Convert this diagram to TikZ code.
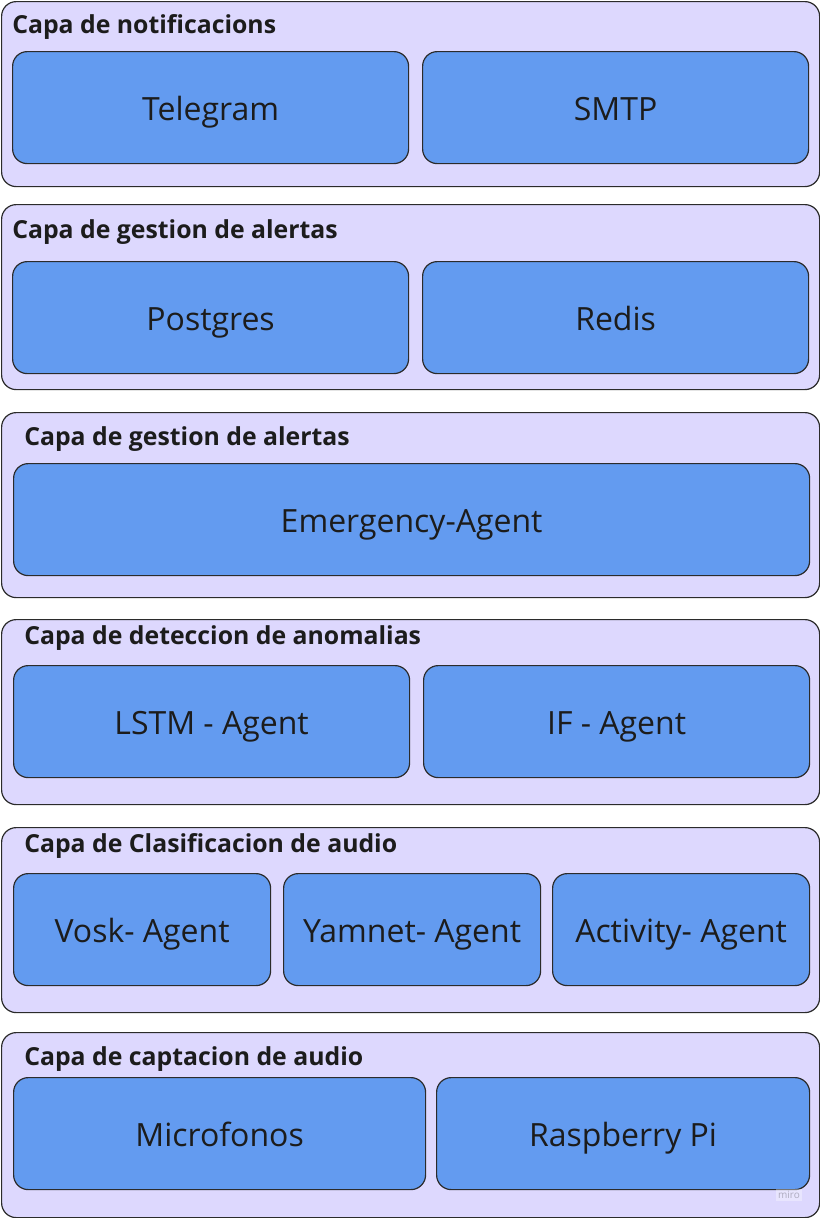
\documentclass[tikz,border=0pt]{standalone}
\usepackage{fontspec}
\setmainfont{Open Sans}
\definecolor{layerfill}{HTML}{DDD8FE}
\definecolor{boxfill}{HTML}{639BF0}
\definecolor{edge}{HTML}{2B2B2B}
\definecolor{ink}{HTML}{1C1C1C}
\tikzset{
  layer/.style={draw=edge, line width=0.9pt, fill=layerfill, rounded corners=11pt, anchor=north west, inner sep=0pt},
  comp/.style={draw=edge, line width=0.9pt, fill=boxfill, rounded corners=11pt, anchor=north west, inner sep=0pt},
  comptext/.style={anchor=base, inner sep=0pt, text=ink, font=\fontsize{24}{28}\selectfont},
  ttl/.style={anchor=base west, inner sep=0pt, text=ink, font=\fontsize{18.6}{22}\selectfont\bfseries},
}
\newcommand\lay[2]{\node[layer, minimum width=818*0.75pt, minimum height=185*0.75pt] (#1) at (1,#2) {};}
\newcommand\cmp[5]{\node[comp, minimum width={(#4-#2)*0.75pt}, minimum height=112*0.75pt] (#1) at (#2,#3) {}; \node[comptext] (#1t) at ([yshift=-13*0.75pt]#1.center) {#5};}
\begin{document}
\begin{tikzpicture}[x=0.75pt,y=-0.75pt]
\useasboundingbox (0,0) rectangle (820,1218);
\fill[white] (0,0) rectangle (820,1218);
% layer 1
\lay{l1}{1}
\node[ttl] (t1) at (12,33) {Capa de notificacions};
\cmp{telegram}{12}{51}{408}{Telegram}
\cmp{smtp}{422}{51}{808}{SMTP}
% layer 2
\lay{l2}{204}
\node[ttl] (t2) at (12,238) {Capa de gestion de alertas};
\cmp{postgres}{12}{261}{408}{Postgres}
\cmp{redis}{422}{261}{808}{Redis}
% layer 3
\lay{l3}{412}
\node[ttl] (t3) at (24,445) {Capa de gestion de alertas};
\cmp{emerg}{13}{463}{809}{Emergency-Agent}
% layer 4
\lay{l4}{619}
\node[ttl] (t4) at (24,644) {Capa de deteccion de anomalias};
\cmp{lstm}{13}{665}{409}{LSTM - Agent}
\cmp{iforest}{423}{665}{809}{IF - Agent}
% layer 5
\lay{l5}{827}
\node[ttl] (t5) at (24,852) {Capa de Clasificacion de audio};
\cmp{vosk}{13}{873}{270}{Vosk- Agent}
\cmp{yamnet}{283}{873}{540}{Yamnet- Agent}
\cmp{activity}{552}{873}{809}{Activity- Agent}
% layer 6
\lay{l6}{1032}
\node[ttl] (t6) at (24,1065) {Capa de captacion de audio};
\cmp{micro}{13}{1077}{425}{Microfonos}
\cmp{rasp}{436}{1077}{809}{Raspberry Pi}
% watermark
\node[fill=white, fill opacity=0.35, text opacity=0.25, text=black, font=\fontsize{7.5}{9}\selectfont, inner sep=1.5pt] (miro) at (789,1195) {miro};
\end{tikzpicture}
\end{document}
